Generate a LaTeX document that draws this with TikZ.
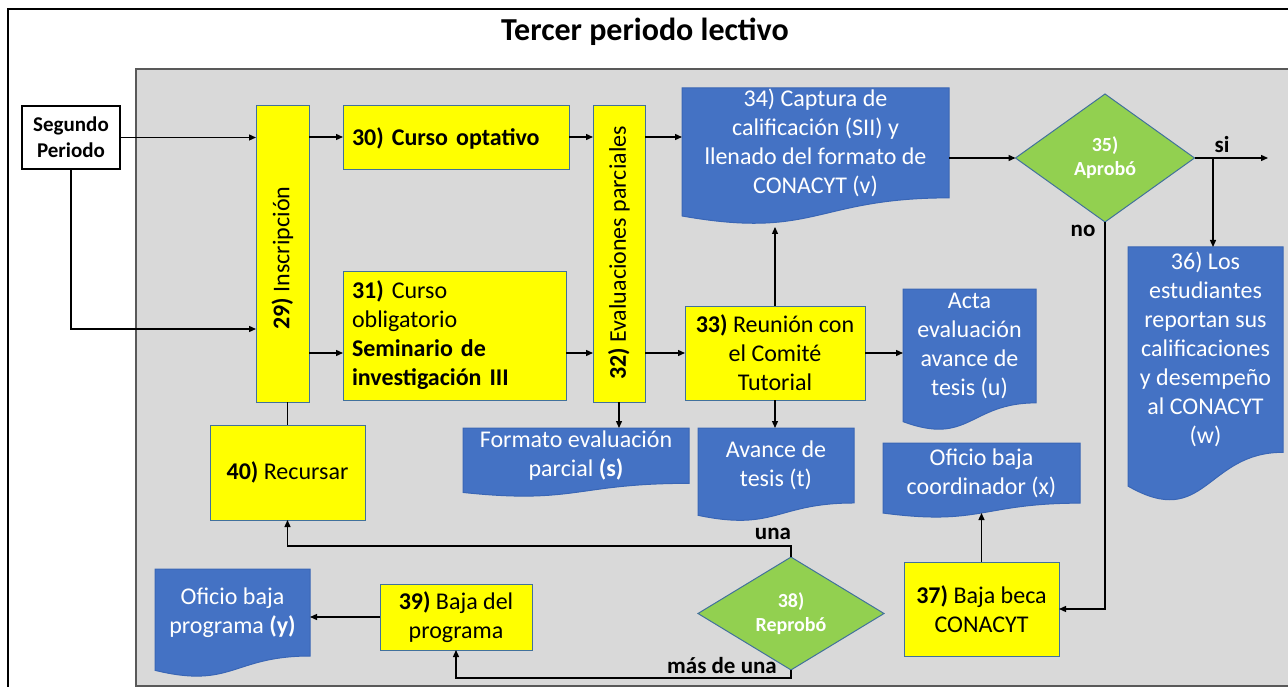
\documentclass[tikz,border=0pt]{standalone}
\usepackage{fontspec}
\setmainfont{Carlito}
\usetikzlibrary{arrows.meta,shapes.geometric,calc}
\definecolor{ybox}{HTML}{FFFF00}
\definecolor{yborder}{HTML}{41719C}
\definecolor{docblue}{HTML}{4472C4}
\definecolor{docborder}{HTML}{3A66B5}
\definecolor{dgreen}{HTML}{92D050}
\definecolor{panel}{HTML}{D9D9D9}
\definecolor{panelborder}{HTML}{595959}
\newcommand\fsz[2]{\fontsize{#1}{#2}\selectfont}
\newcommand\docnode[6]{%
  \path[docshape] (#2,#3) -- (#4,#3) -- (#4,{#3+0.802*#5})
    .. controls ({(#2+#4)/2},{#3+0.802*#5}) and ({(#2+#4)/2},{#3+1.1075*#5}) ..
    (#2,{#3+0.934*#5}) -- cycle;
  \node[doctext, minimum width={(#4-#2)*1pt}, minimum height={0.802*#5*1pt}] (#1)
    at ({(#2+#4)/2},{#3+0.401*#5}) {#6};}
\begin{document}
\begin{tikzpicture}[x=1pt,y=-1pt,
  yellowbox/.style={draw=yborder, fill=ybox, line width=1pt, inner sep=0pt, outer sep=0pt,
     font=\fsz{24}{29}, align=center},
  leftbox/.style={yellowbox, align=left, inner xsep=9pt},
  docshape/.style={fill=docblue, draw=docborder, line width=1pt},
  doctext/.style={inner sep=0pt, outer sep=0pt, text=white, font=\fsz{24}{29}, align=center},
  decision/.style={diamond, draw=yborder, fill=dgreen, line width=1pt, text=white,
     font=\fsz{20}{24}\bfseries, align=center, inner sep=0pt, outer sep=0pt},
  vtext/.style={rotate=90, font=\fsz{24}{29}, inner sep=0pt},
  arr/.style={-{Triangle[length=7pt,width=6pt]}, line width=1.3pt},
  ln/.style={line width=1.3pt},
  lbl/.style={font=\fsz{23}{26}\bfseries, inner sep=0pt}]
\useasboundingbox (0,0) rectangle (1288,687);
% frame and panel
\draw[line width=2pt] (8,687) -- (8,9) -- (1288,9);
\fill[panel] (136,69) rectangle (1288,686);
\draw[panelborder, line width=2pt] (1288,69) -- (136,69) -- (136,686) -- (1288,686);
\node[font=\fsz{32}{36}\bfseries, inner sep=0pt] (title) at (645,32) {Tercer periodo lectivo};

% level coordinates
\coordinate (r1) at (0,137);
\coordinate (r2) at (0,329);
\coordinate (r3) at (0,353);
\coordinate (r6) at (0,546);
\coordinate (r7) at (0,678);
\coordinate (w34) at (775,227);
\coordinate (wx) at (981.5,513);
\coordinate (br) at (1213,158);
\coordinate (siend) at (1268,158);

% nodes
\node[draw=black, fill=white, line width=1.3pt, minimum width=98pt, minimum height=63pt,
      font=\fsz{21}{26}\bfseries, align=center, inner sep=0pt] (seg) at (71,137.5) {Segundo\\Periodo};
\node[yellowbox, minimum width=53pt, minimum height=296pt] (n29) at (282.5,254) {};
\node[vtext] (t29) at (282.5,258) {\textbf{29)} Inscripción};
\node[leftbox, text width=208pt, minimum height=64pt] (n30) at (456,138) {\textbf{30) Curso optativo}};
\node[leftbox, text width=205pt, minimum height=129pt] (n31) at (454.5,335.5)
  {\textbf{31)} Curso\\obligatorio\\\textbf{Seminario de}\\\textbf{investigación III}};
\node[yellowbox, minimum width=52pt, minimum height=296pt] (n32) at (619,254) {};
\node[vtext] (t32) at (619,253) {\textbf{32)} Evaluaciones parciales};
\node[yellowbox, minimum width=180pt, minimum height=94pt] (n33) at (775,353)
  {\textbf{33)} Reunión con\\el Comité\\Tutorial};
\node[yellowbox, minimum width=155pt, minimum height=94pt] (n37) at (981.5,609)
  {\textbf{37)} Baja beca\\CONACYT};
\node[yellowbox, minimum width=152pt, minimum height=66pt] (n39) at (456,617)
  {\textbf{39)} Baja del\\programa};
\node[yellowbox, minimum width=155pt, minimum height=95pt] (n40) at (287.5,472.5)
  {\textbf{40)} Recursar};
\node[decision, minimum width=179pt, minimum height=128pt] (n35) at (1105,158) {35)\\Aprobó};
\node[decision, minimum width=186pt, minimum height=83pt] (n38) at (791,613.5) {38)\\Reprobó};

% documents
\docnode{d34}{682}{88}{949}{137}{34) Captura de\\calificación (SII) y\\llenado del formato de\\CONACYT (v)}
\docnode{d36}{1128}{247}{1283}{256}{36) Los\\estudiantes\\reportan sus\\calificaciones\\y desempeño\\al CONACYT\\(w)}
\docnode{dacta}{903}{289}{1036}{142}{Acta\\evaluación\\avance de\\tesis (u)}
\docnode{ds}{463}{428}{689}{69}{Formato evaluación\\parcial \textbf{(s)}}
\docnode{dt}{698}{428}{854}{93.5}{Avance de\\tesis (t)}
\docnode{dx}{883}{443}{1080}{75}{Oficio baja\\coordinador (x)}
\docnode{dy}{155}{569}{310}{108.5}{Oficio baja\\programa \textbf{(y)}}

% connectors
\draw[arr] (seg.east) -- (seg.east -| n29.west);
\draw[arr] (seg.south) |- (n29.west |- r2);
\draw[arr] (n29.east |- r1) -- (n30.west |- r1);
\draw[arr] (n29.east |- r3) -- (n31.west |- r3);
\draw[arr] (n30.east |- r1) -- (n32.west |- r1);
\draw[arr] (n31.east |- r3) -- (n32.west |- r3);
\draw[arr] (n32.east |- r1) -- (d34.west |- r1);
\draw[arr] (n32.east |- r3) -- (n33.west |- r3);
\draw[arr] (n32.south) -- (n32.south |- ds.north);
\draw[arr] (n33.north) -- (w34);
\draw[arr] (n33.east) -- (n33.east -| dacta.west);
\draw[arr] (n33.south) -- (n33.south |- dt.north);
\draw[arr] (n35.west -| d34.east) -- (n35.west);
\draw[arr] (n35.east) -- (siend);
\draw[arr] (br) -- (br |- d36.north);
\draw[arr] (n35.south) |- (n37.east);
\draw[arr] (n37.north) -- (wx);
\draw[ln] (n40.north |- n29.south) -- (n40.north);
\draw[arr] (n38.north) -- (n38.north |- r6) -- (n40.south |- r6) -- (n40.south);
\draw[arr] (n38.south) -- (n38.south |- r7) -- (n39.south |- r7) -- (n39.south);
\draw[arr] (n39.west) -- (n39.west -| dy.east);

% labels
\node[lbl] (lsi) at (1222,145) {si};
\node[lbl] (lno) at (1083,231) {no};
\node[lbl] (luna) at (773,534) {una};
\node[lbl] (lmas) at (722,666) {más de una};
\end{tikzpicture}
\end{document}
